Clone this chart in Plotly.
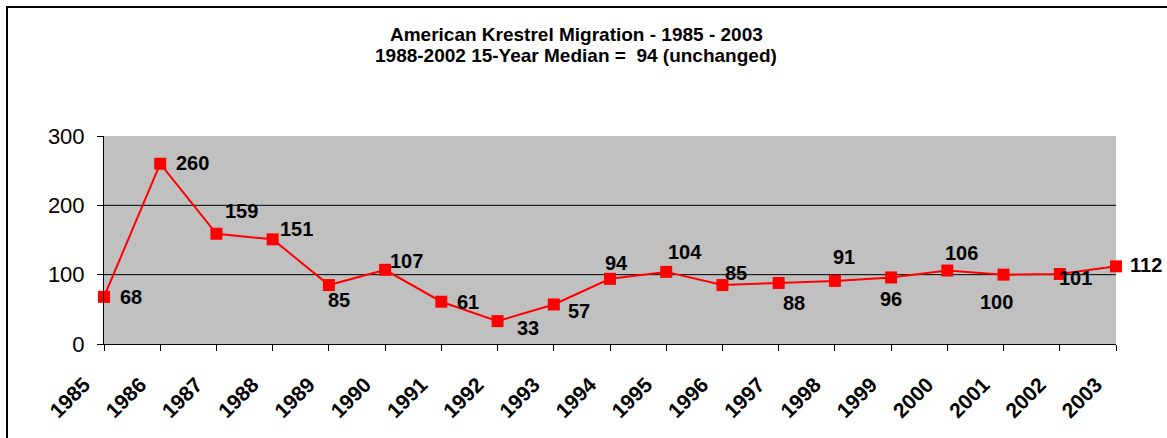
import plotly.graph_objects as go

years = [1985, 1986, 1987, 1988, 1989, 1990, 1991, 1992, 1993, 1994,
         1995, 1996, 1997, 1998, 1999, 2000, 2001, 2002, 2003]
counts = [68, 260, 159, 151, 85, 107, 61, 33, 57, 94,
          104, 85, 88, 91, 96, 106, 100, 101, 112]
y_ticks = [0, 100, 200, 300]

title_lines = ["American Krestrel Migration - 1985 - 2003",
               "1988-2002 15-Year Median =  94 (unchanged)"]

# label offsets (px) from each marker: left edge of text, vertical centre
label_shift = [(14, 0), (14, 1), (7, 23), (5, 10), (-3, -15), (3, 9), (14, 0),
               (17, -7), (12, -7), (-7, 16), (0, 20), (1, 12), (2, -20),
               (-4, 24), (-13, -22), (-4, 18), (-26, -27), (-3, -4), (12, 1)]

font = "Liberation Sans, Arial, sans-serif"

fig = go.Figure()
fig.add_trace(go.Scatter(
    x=years, y=counts, mode="lines+markers",
    line=dict(color="#ff0000", width=2),
    marker=dict(symbol="square", size=12, color="#ff0000"),
    cliponaxis=False, showlegend=False,
))

for yr, val, (dx, dy) in zip(years, counts, label_shift):
    fig.add_annotation(x=yr, y=val, text="<b>%d</b>" % val, showarrow=False,
                       xanchor="left", yanchor="middle", xshift=dx, yshift=dy,
                       font=dict(family=font, size=20, color="black"))

# horizontal gridlines (none on the top edge)
for t in y_ticks[1:-1]:
    fig.add_shape(type="line", xref="paper", yref="y", x0=0, x1=1, y0=t, y1=t,
                  line=dict(color="black", width=1), layer="below")

# title, two lines
for i, line in enumerate(title_lines):
    fig.add_annotation(xref="paper", yref="paper", x=(576 - 104) / 1012,
                       y=(344 - 35 - 20 * i) / 208, text="<b>%s</b>" % line,
                       showarrow=False, xanchor="center", yanchor="middle",
                       font=dict(family=font, size=19, color="black"))

# outer chart frame (only top and left edges are visible in the window)
fig.add_shape(type="rect", xref="paper", yref="paper",
              x0=(7 - 104) / 1012, x1=1.08, y0=-0.6, y1=(344 - 7) / 208,
              line=dict(color="black", width=2), layer="below")

fig.update_layout(
    width=1167, height=438,
    margin=dict(l=104, r=51, t=136, b=94),
    paper_bgcolor="white", plot_bgcolor="#c0c0c0",
    font=dict(family=font, color="black"),
)
fig.update_xaxes(range=[years[0], years[-1]], tickvals=years,
                 ticktext=["<b>%d</b>" % y for y in years], tickangle=-45,
                 ticks="outside", ticklen=6, tickcolor="black",
                 ticklabelstandoff=13, ticklabelshift=-20,
                 showline=True, linecolor="black", linewidth=1,
                 showgrid=False, zeroline=False,
                 tickfont=dict(size=21, family=font))
fig.update_yaxes(range=[0, 300], tickvals=y_ticks, ticks="outside", ticklen=6,
                 tickcolor="black", showline=True, linecolor="black", linewidth=1,
                 ticklabelstandoff=8,
                 showgrid=False, zeroline=False,
                 tickfont=dict(size=22, family=font))

fig.write_html("out.html", config={"displayModeBar": False},
               post_script="document.body.style.margin = '0';")
